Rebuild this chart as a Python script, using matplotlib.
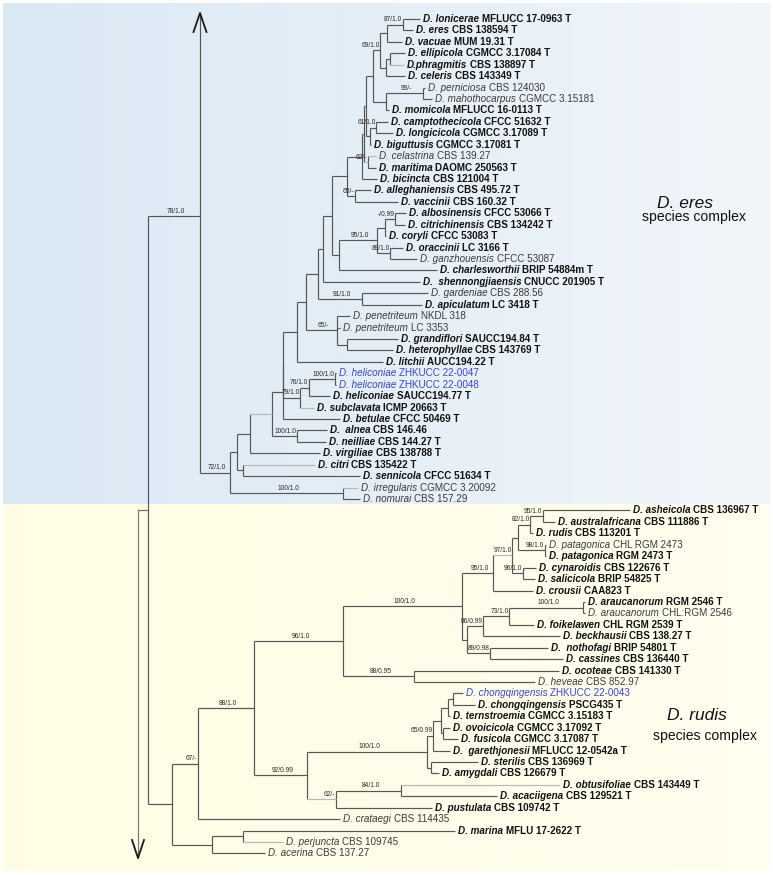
import matplotlib
matplotlib.use("Agg")
import matplotlib.pyplot as plt
import numpy as np
from matplotlib.collections import LineCollection
from collections import defaultdict

plt.rcParams['font.family'] = ['Liberation Sans', 'DejaVu Sans']

# ---------------- data ----------------
species = [
    "D. lonicerae", "D. eres", "D. vacuae", "D. ellipicola", "D.phragmitis", "D. celeris",
    "D. perniciosa", "D. mahothocarpus", "D. momicola", "D. camptothecicola", "D. longicicola",
    "D. biguttusis", "D. celastrina", "D. maritima", "D. bicincta", "D. alleghaniensis",
    "D. vaccinii", "D. albosinensis", "D. citrichinensis", "D. coryli", "D. oraccinii",
    "D. ganzhouensis", "D. charlesworthii", "D.  shennongjiaensis", "D. gardeniae",
    "D. apiculatum", "D. penetriteum", "D. penetriteum", "D. grandiflori", "D. heterophyllae",
    "D. litchii", "D. heliconiae", "D. heliconiae", "D. heliconiae", "D. subclavata",
    "D. betulae", "D.  alnea", "D. neilliae", "D. virgiliae", "D. citri", "D. sennicola",
    "D. irregularis", "D. nomurai",
    "D. asheicola", "D. australafricana", "D. rudis", "D. patagonica", "D. patagonica",
    "D. cynaroidis", "D. salicicola", "D. crousii", "D. araucanorum", "D. araucanorum",
    "D. foikelawen", "D. beckhausii", "D.  nothofagi", "D. cassines", "D. ocoteae",
    "D. heveae", "D. chongqingensis", "D. chongqingensis", "D. ternstroemia", "D. ovoicicola",
    "D. fusicola", "D.  garethjonesii", "D. sterilis", "D. amygdali", "D. obtusifoliae",
    "D. acaciigena", "D. pustulata", "D. crataegi", "D. marina", "D. perjuncta", "D. acerina",
]
strains = [
    "MFLUCC 17-0963 T", "CBS 138594 T", "MUM 19.31 T", "CGMCC 3.17084 T", "CBS 138897 T",
    "CBS 143349 T", "CBS 124030", "CGMCC 3.15181", "MFLUCC 16-0113 T", "CFCC 51632 T",
    "CGMCC 3.17089 T", "CGMCC 3.17081 T", "CBS 139.27", "DAOMC 250563 T", "CBS 121004 T",
    "CBS 495.72 T", "CBS 160.32 T", "CFCC 53066 T", "CBS 134242 T", "CFCC 53083 T",
    "LC 3166 T", "CFCC 53087", "BRIP 54884m T", "CNUCC 201905 T", "CBS 288.56", "LC 3418 T",
    "NKDL 318", "LC 3353", "SAUCC194.84 T", "CBS 143769 T", "AUCC194.22 T", "ZHKUCC 22-0047",
    "ZHKUCC 22-0048", "SAUCC194.77 T", "ICMP 20663 T", "CFCC 50469 T", "CBS 146.46",
    "CBS 144.27 T", "CBS 138788 T", "CBS 135422 T", "CFCC 51634 T", "CGMCC 3.20092",
    "CBS 157.29",
    "CBS 136967 T", "CBS 111886 T", "CBS 113201 T", "CHL RGM 2473", "RGM 2473 T",
    "CBS 122676 T", "BRIP 54825 T", "CAA823 T", "RGM 2546 T", "CHL:RGM 2546",
    "CHL RGM 2539 T", "CBS 138.27 T", "BRIP 54801 T", "CBS 136440 T", "CBS 141330 T",
    "CBS 852.97", "ZHKUCC 22-0043", "PSCG435 T", "CGMCC 3.15183 T", "CGMCC 3.17092 T",
    "CGMCC 3.17087 T", "MFLUCC 12-0542a T", "CBS 136969 T", "CBS 126679 T", "CBS 143449 T",
    "CBS 129521 T", "CBS 109742 T", "CBS 114435", "MFLU 17-2622 T", "CBS 109745", "CBS 137.27",
]
leaf_parent = [
    "N403", "N403", "N387", "N390e", "N390e", "N386e", "N423", "N423", "N386b", "N376",
    "N376", "N370", "N368", "N368", "N362b", "N355", "N355", "N395", "N395", "N385",
    "N390", "N390", "N339", "N323", "N362", "N362", "N337", "N337", "N347g", "N347g",
    "N297", "N335", "N335", "N309", "N300", "N283", "N297a", "N297a", "N250", "N243c",
    "N243c", "N343i", "N343i",
    "N543", "N543", "N530", "N545", "N545", "N523", "N523", "N493", "N583", "N583",
    "N509", "N483", "N490", "N490", "N414", "N414", "N453", "N453", "N448", "N443",
    "N443", "N433", "N431", "N431", "N401", "N401", "N336", "N198", "N243m", "N243m", "N212",
]
leaf_length = [
    17, 10, 15, 15, 14, 19, 2, 9, 3, 12, 17, 1, 8, 8, 15, 16, 43, 11, 10, 1,
    13, 27, 98, 97, 66, 60, 13, 3, 51, 46, 86, 1, 1, 21, 14, 57, 30, 29, 70, 72,
    117, 15, 17,
    87, 12, 3, 1, 1, 13, 12, 40, 2, 2, 25, 77, 58, 73, 145, 121, 10, 22, 2, 7,
    15, 17, 47, 8, 159, 96, 96, 142, 212, 40, 53,
]
node_names = [
    "E200", "N230", "N237", "N343i", "N250", "N243c", "N272", "N283", "N297a", "N283a",
    "N297", "N300", "N309", "N335", "N306", "N318", "N337", "N347g", "N323", "N362",
    "N332", "N347", "N339", "N377", "N385", "N395", "N390", "N362b", "N355", "N364",
    "N366", "N368", "N373", "N370", "N376", "N380", "N386b", "N423", "N387", "N386e",
    "N403", "N390e",
    "N172", "N198", "N212", "N243m", "N254", "N343r", "N307", "N462", "N414", "N493",
    "N467", "N512", "N518", "N523", "N530", "N545", "N543", "N483", "N490", "N509",
    "N583", "N427", "N336", "N433", "N431", "N441", "N448", "N443", "N453", "N401",
]
node_parent = [
    "root", "E200", "N230", "N230", "N237", "N237", "N250", "N272", "N272", "N283",
    "N283a", "N283a", "N300", "N309", "N297", "N306", "N306", "N337", "N318", "N318",
    "N323", "N332", "N332", "N339", "N377", "N385", "N377", "N347", "N347", "N362b",
    "N364", "N364", "N366", "N366", "N370", "N373", "N373", "N386b", "N380", "N380",
    "N387", "N386e",
    "root", "N172", "N172", "N212", "N198", "N254", "N254", "N343r", "N343r", "N462",
    "N462", "N493", "N512", "N512", "N518", "N518", "N530", "N467", "N467", "N483",
    "N509", "N307", "N307", "N427", "N427", "N433", "N441", "N441", "N448", "N336",
]
node_length = [
    52, 30, 7, 113, 13, 6, 22, 11, 25, 0,
    14, 17, 9, 26, 9, 12, 31, 10, 5, 44,
    9, 15, 7, 38, 8, 10, 13, 15, 8, 2,
    2, 4, 7, 4, 6, 7, 13, 37, 7, 6,
    16, 4,
    24, 26, 40, 31, 56, 89, 53, 119, 71, 31,
    5, 19, 6, 11, 12, 27, 13, 16, 23, 26,
    74, 120, 29, 6, 4, 8, 7, 2, 5, 65,
]
node_support = [
    "78/1.0", "72/1.0", "", "100/1.0", "", "", "", "", "100/1.0", "",
    "", "79/1.0", "76/1.0", "100/1.0", "", "", "65/-", "", "", "91/1.0",
    "", "", "", "95/1.0", "", "-/0.99", "89/1.0", "", "65/-", "",
    "", "62/-", "", "", "61/1.0", "69/1.0", "", "99/-", "", "",
    "87/1.0", "",
    "", "67/-", "", "", "88/1.0", "96/1.0", "92/0.99", "100/1.0", "88/0.95", "95/1.0",
    "", "97/1.0", "", "96/1.0", "82/1.0", "98/1.0", "95/1.0", "86/0.99", "89/0.98", "73/1.0",
    "100/1.0", "100/1.0", "62/-", "65/0.99", "", "", "", "", "", "84/1.0",
]
new_isolates = [31, 32, 59]
extra_bold = [36]
light_branches = [4, 12, 34, 39, 41, 67, 72, "N272", "N512", "N336", "N368"]

# ---------------- layout helpers ----------------
ROOT_PX, ROW0_PX, ROW_PX = 148.0, 19.0, 11.43
def px_x(p):
    return p - ROOT_PX
def px_y(p):
    return (p - ROW0_PX) / ROW_PX

stem_rows = {"E200": px_y(216)}

parent, length = {}, {}
for n, p, l in zip(node_names, node_parent, node_length):
    parent[n], length[n] = p, l
for i, (p, l) in enumerate(zip(leaf_parent, leaf_length)):
    parent[i], length[i] = p, l
children = defaultdict(list)
for k, p in parent.items():
    children[p].append(k)
children = dict(children)

X = {"root": 0.0}
def setx(n):
    for c in children.get(n, []):
        X[c] = X[n] + length[c]
        setx(c)
setx("root")

Y = {}
def gety(n):
    if isinstance(n, int):
        Y[n] = float(n)
        return Y[n]
    ys = [gety(c) for c in children[n]]
    if len(ys) == 1:
        Y[n] = stem_rows[n]
    else:
        Y[n] = (min(ys) + max(ys)) / 2
    return Y[n]
gety("root")

# ---------------- figure ----------------
fig = plt.figure(figsize=(7.73, 8.75), dpi=100)
ax = fig.add_axes([0, 0, 1, 1])
ax.set_xlim(px_x(0), px_x(773))
ax.set_ylim(px_y(875), px_y(0))
ax.axis('off')

# backgrounds
def grad(c0, c1):
    t = np.linspace(0, 1, 256)[None, :, None]
    return np.array(c0)[None, None, :] * (1 - t) + np.array(c1)[None, None, :] * t
ax.imshow(grad([0.855, 0.910, 0.957], [0.945, 0.963, 0.980]), aspect='auto',
          extent=(px_x(3), px_x(770), px_y(504), px_y(3)), zorder=0, interpolation='bilinear')
ax.imshow(grad([1.0, 0.992, 0.890], [1.0, 0.998, 0.940]), aspect='auto',
          extent=(px_x(3), px_x(770), px_y(871), px_y(504)), zorder=0, interpolation='bilinear')

# branches
dark, light = [], []
for n in parent:
    seg = [(X[parent[n]], Y[n]), (X[n], Y[n])]
    (light if n in light_branches else dark).append(seg)
for n, ch in children.items():
    if not ch:
        continue
    ys = [Y[c] for c in ch] + ([Y[n]] if len(ch) == 1 else [])
    dark.append([(X[n], min(ys)), (X[n], max(ys))])
ax.add_collection(LineCollection(dark, colors='#565656', linewidths=0.85, zorder=2))
ax.add_collection(LineCollection(light, colors='#b8b8b8', linewidths=0.85, zorder=2))

# range arrows
ax.plot([X["E200"], X["E200"]], [px_y(13), Y["E200"]], color='#555555', lw=0.85, zorder=2)
ax.plot([X["E200"] - 6.5, X["E200"], X["E200"] + 6.5], [px_y(32), px_y(13), px_y(32)],
        color='#1a1a1a', lw=1.3, zorder=3)
bx = px_x(138)
ax.plot([bx, 0], [px_y(510), px_y(510)], color='#666666', lw=0.85, zorder=2)
ax.plot([bx, bx], [px_y(510), px_y(858)], color='#777777', lw=0.85, zorder=2)
ax.plot([bx - 6, bx, bx + 6], [px_y(840), px_y(858), px_y(840)], color='#1a1a1a', lw=1.3, zorder=3)

# support values
for n, sup in zip(node_names, node_support):
    if not sup:
        continue
    L = length[n]
    if L >= 30:
        xt, ha = X[parent[n]] + L / 2 + 2, 'center'
    else:
        xt, ha = X[n] - 0.5, 'right'
    ax.text(xt, Y[n] - 0.12, sup, fontsize=4.8, ha=ha, va='bottom', color='#2a2a2a', zorder=4)

# leaf labels
for i in range(len(species)):
    bold = strains[i].endswith(" T") or i in extra_bold
    if i in new_isolates:
        col = '#3b45c6'
    else:
        col = '#111111' if bold else '#3a3a3a'
    w = 'bold' if bold else 'normal'
    t1 = ax.text(X[i] + 3, i, species[i], fontsize=7.1, style='italic', weight=w,
                 color=col, ha='left', va='center', zorder=4)
    ax.annotate(strains[i], xy=(1, 0), xycoords=t1, xytext=(1.95, 0),
                textcoords='offset points', fontsize=7.1, weight=w, color=col,
                ha='left', va='bottom', zorder=4)

# complex labels
ax.text(px_x(685), px_y(208), "D. eres", style='italic', fontsize=12.5, ha='center',
        va='baseline', color='#111111')
ax.text(px_x(694), px_y(221), "species complex", fontsize=10.1, ha='center',
        va='baseline', color='#111111')
ax.text(px_x(697), px_y(720), "D. rudis", style='italic', fontsize=12.5, ha='center',
        va='baseline', color='#111111')
ax.text(px_x(705), px_y(740), "species complex", fontsize=10.1, ha='center',
        va='baseline', color='#111111')

fig.savefig("out.png", dpi=100, facecolor='white')
